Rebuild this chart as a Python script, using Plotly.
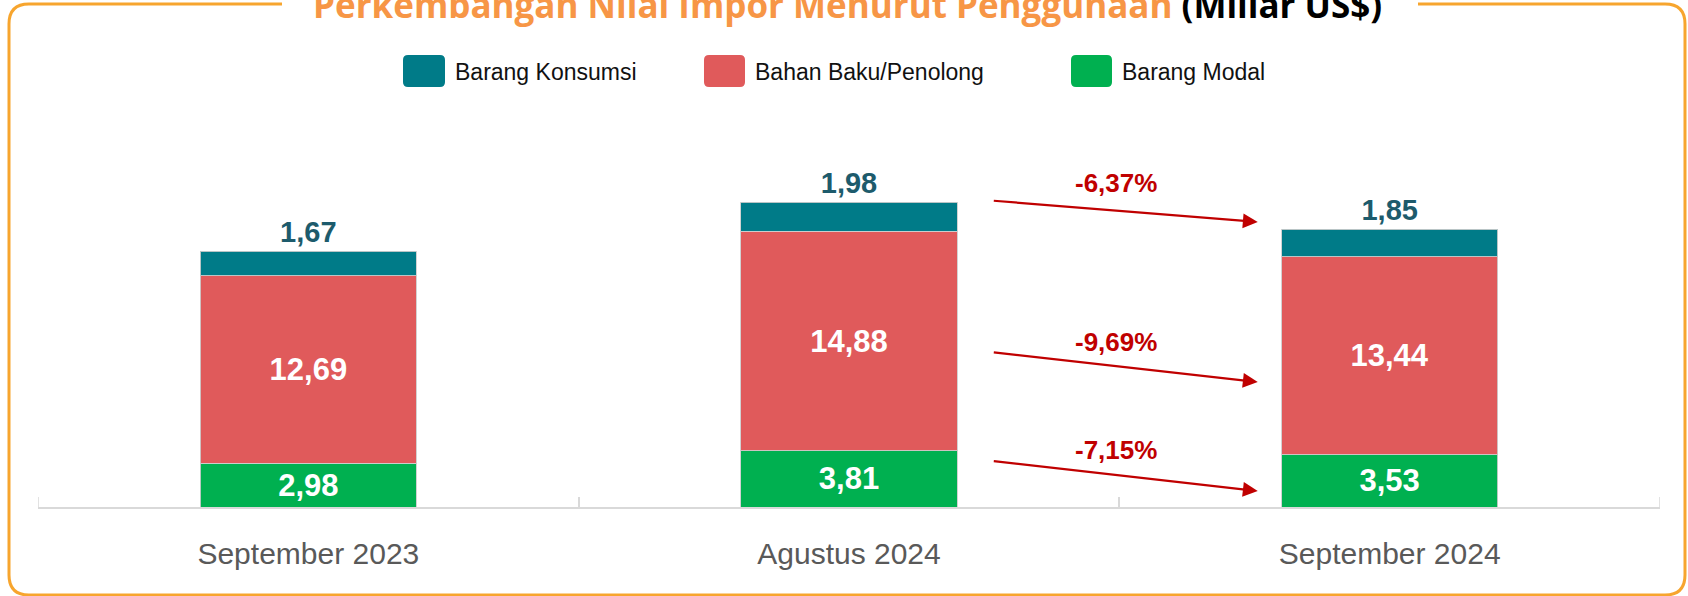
import plotly.graph_objects as go

# ---------------- data ----------------
categories = ["September 2023", "Agustus 2024", "September 2024"]
barang_modal = [2.98, 3.81, 3.53]
bahan_baku = [12.69, 14.88, 13.44]
barang_konsumsi = [1.67, 1.98, 1.85]
pct_changes = ["-6,37%", "-9,69%", "-7,15%"]  # konsumsi, bahan baku, modal
series_names = ["Barang Konsumsi", "Bahan Baku/Penolong", "Barang Modal"]

# ---------------- styles ----------------
C_TEAL = "#007B88"
C_RED = "#E05A5B"
C_GREEN = "#00B050"
C_TEAL_TXT = "#1D5B6C"
C_ARROW = "#C00000"
C_BORDER = "#F7A52E"
C_TITLE = "#F79646"
C_AXIS = "#D9D9D9"
FONT = "Liberation Sans, Arial, sans-serif"

W, H = 1688, 596
ML, MR, MT, MB = 38, 28, 100, 89
PW, PH = W - ML - MR, H - MT - MB
PX_PER_UNIT = 14.75
YMAX = PH / PX_PER_UNIT


def px2paper(px, py):
    return (px - ML) / PW, (H - MB - py) / PH


def P(x, y):
    a, b = px2paper(x, y)
    return f"{a:.6f},{b:.6f}"


def rounded_path(x0, y0, x1, y1, r):
    return (f"M{P(x0 + r, y0)} L{P(x1 - r, y0)} Q{P(x1, y0)} {P(x1, y0 + r)} "
            f"L{P(x1, y1 - r)} Q{P(x1, y1)} {P(x1 - r, y1)} L{P(x0 + r, y1)} "
            f"Q{P(x0, y1)} {P(x0, y1 - r)} L{P(x0, y0 + r)} Q{P(x0, y0)} {P(x0 + r, y0)} Z")


fig = go.Figure()
line_style = dict(color="rgba(205,205,205,0.9)", width=1)
inside_font = dict(family=FONT, size=31, color="white", weight="bold")
fig.add_trace(go.Bar(
    x=categories, y=barang_modal, name=series_names[2], marker=dict(color=C_GREEN, line=line_style),
    texttemplate="%{y:.2f}", textposition="inside", insidetextanchor="middle", constraintext="none",
    textfont=inside_font, width=0.4))
fig.add_trace(go.Bar(
    x=categories, y=bahan_baku, name=series_names[1], marker=dict(color=C_RED, line=line_style),
    texttemplate="%{y:.2f}", textposition="inside", insidetextanchor="middle", constraintext="none",
    textfont=inside_font, width=0.4))
fig.add_trace(go.Bar(
    x=categories, y=barang_konsumsi, name=series_names[0], marker=dict(color=C_TEAL, line=line_style),
    texttemplate="%{y:.2f}", textposition="outside", constraintext="none", cliponaxis=False,
    textfont=dict(family=FONT, size=29, color=C_TEAL_TXT, weight="bold"), width=0.4))

# ---------------- arrows & percentage labels ----------------
totals_aug = barang_modal[1] + bahan_baku[1] + barang_konsumsi[1]
totals_sep = barang_modal[2] + bahan_baku[2] + barang_konsumsi[2]
arrows = [
    (totals_aug + 0.1, totals_sep + 0.5, pct_changes[0], 21.95),
    (10.5, 8.47, pct_changes[1], 11.2),
    (3.12, 1.08, pct_changes[2], 3.86),
]
annotations = []
for y0, y1, txt, ty in arrows:
    annotations.append(dict(x=1.756, y=y1, ax=1.265, ay=y0, xref="x", yref="y", axref="x", ayref="y",
                            showarrow=True, arrowhead=2, arrowsize=1.35, arrowwidth=2.2,
                            arrowcolor=C_ARROW, text=""))
    annotations.append(dict(x=1.493, y=ty, xref="x", yref="y", text=txt, showarrow=False,
                            font=dict(family=FONT, size=26, color=C_ARROW, weight="bold")))

# ---------------- custom legend ----------------
shapes = []
legend_items = [(403, 445, C_TEAL, series_names[0], 453),
                (704, 745, C_RED, series_names[1], 753),
                (1071, 1112, C_GREEN, series_names[2], 1120)]
for x0, x1, col, name, tx in legend_items:
    shapes.append(dict(type="path", xref="paper", yref="paper", path=rounded_path(x0, 55, x1, 87, 5),
                       fillcolor=col, line=dict(width=0)))
    ax, ay = px2paper(tx, 72)
    annotations.append(dict(x=ax, y=ay, xref="paper", yref="paper", xanchor="left", yanchor="middle",
                            text=name, showarrow=False, font=dict(family=FONT, size=23, color="#111111")))

# ---------------- end ticks of the category axis ----------------
tick_top = 10 / PH
for xb in (-0.5, 2.5):
    shapes.append(dict(type="line", xref="x", yref="paper", x0=xb, x1=xb, y0=0, y1=tick_top,
                       line=dict(color=C_AXIS, width=1.5)))

# ---------------- border with title gap ----------------
bx0, by0, bx1, by1, r = 9, 4, 1685, 595, 20
border = (f"M{P(282, by0)} L{P(bx0 + r, by0)} Q{P(bx0, by0)} {P(bx0, by0 + r)} L{P(bx0, by1 - r)} "
          f"Q{P(bx0, by1)} {P(bx0 + r, by1)} L{P(bx1 - r, by1)} Q{P(bx1, by1)} {P(bx1, by1 - r)} "
          f"L{P(bx1, by0 + r)} Q{P(bx1, by0)} {P(bx1 - r, by0)} L{P(1418, by0)}")
shapes.append(dict(type="path", xref="paper", yref="paper", path=border, line=dict(color=C_BORDER, width=3)))

tx, ty = px2paper(847, 5)
annotations.append(dict(x=tx, y=ty, xref="paper", yref="paper", xanchor="center", yanchor="middle",
                        showarrow=False,
                        text=f"<span style='color:{C_TITLE}'>Perkembangan Nilai Impor Menurut Penggunaan</span> (Miliar US$)",
                        font=dict(family="Open Sans, sans-serif", size=35, color="#000000", weight="bold")))

fig.update_layout(
    width=W, height=H, margin=dict(l=ML, r=MR, t=MT, b=MB),
    barmode="stack", showlegend=False, separators=",.",
    paper_bgcolor="white", plot_bgcolor="white",
    shapes=shapes, annotations=annotations,
    xaxis=dict(range=[-0.5, 2.5], showline=True, linecolor=C_AXIS, linewidth=2,
               ticks="inside", ticklen=10, tickcolor=C_AXIS, tickwidth=1.5, tickson="boundaries",
               tickfont=dict(family=FONT, size=30, color="#595959"), ticklabelstandoff=19,
               showgrid=False, zeroline=False),
    yaxis=dict(range=[0, YMAX], visible=False, showgrid=False, zeroline=False),
)

fig.write_html("out.html", config={"displayModeBar": False},
               post_script="document.body.style.margin='0';document.body.style.overflow='hidden';")
